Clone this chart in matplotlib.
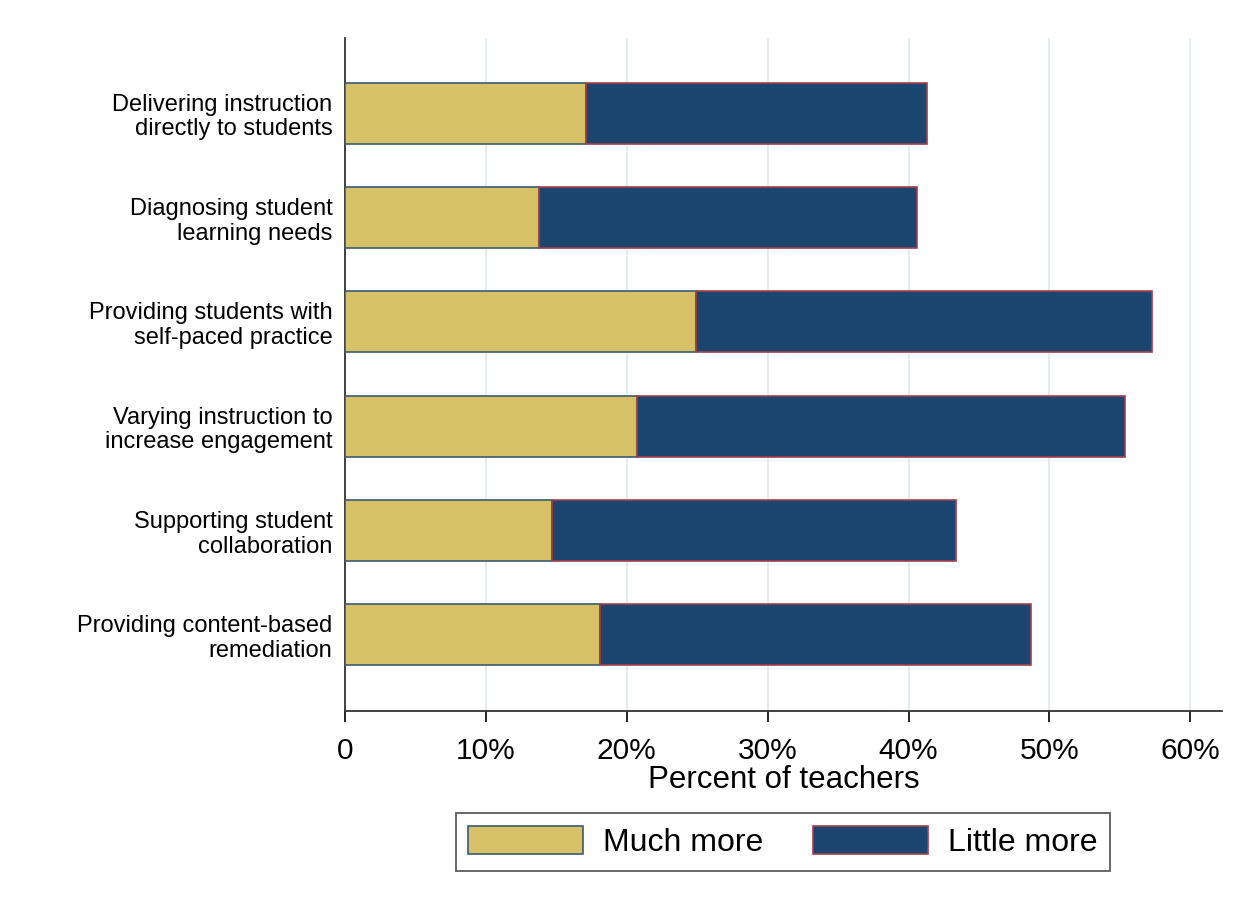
import matplotlib
matplotlib.use("Agg")
import matplotlib.pyplot as plt
from matplotlib.patches import Patch
from matplotlib.ticker import FuncFormatter

plt.rcParams['font.family'] = ['Liberation Sans', 'DejaVu Sans']

categories = [
    "Delivering instruction\ndirectly to students",
    "Diagnosing student\nlearning needs",
    "Providing students with\nself-paced practice",
    "Varying instruction to\nincrease engagement",
    "Supporting student\ncollaboration",
    "Providing content-based\nremediation",
]
much_more = [17.1, 13.8, 24.9, 20.7, 14.7, 18.1]
total = [41.3, 40.6, 57.3, 55.4, 43.4, 48.7]
little_more = [t - m for t, m in zip(total, much_more)]
series_labels = ["Much more", "Little more"]
xticks = [0, 10, 20, 30, 40, 50, 60]

yellow = "#D7C166"
blue = "#1C4670"

fig = plt.figure(figsize=(12.51, 9.07), dpi=100)
ax = fig.add_axes([345/1251, 1-711/907, (1222-345)/1251, (711-38)/907])

ypos = list(range(len(categories)))
ax.barh(ypos, much_more, height=0.585, color=yellow, edgecolor="#3D5A73", linewidth=1.2, zorder=3)
ax.barh(ypos, little_more, left=much_more, height=0.585, color=blue, edgecolor="#A0404E", linewidth=1.2, zorder=3)

ax.set_ylim(5.73, -0.72)
ax.set_xlim(0, 62.25)
ax.set_yticks(ypos)
ax.set_yticklabels(categories, fontsize=17, linespacing=1.15)
ax.tick_params(axis='y', length=0, pad=9)
ax.set_xticks(xticks)
ax.xaxis.set_major_formatter(FuncFormatter(lambda v, p: "0" if v == 0 else f"{int(v)}%"))
ax.tick_params(axis='x', labelsize=21.5, length=8, width=1.2, pad=11)
ax.grid(axis='x', color="#E4ECF0", linewidth=1.5, zorder=0)
for s in ['top', 'right']:
    ax.spines[s].set_visible(False)
for s in ['left', 'bottom']:
    ax.spines[s].set_linewidth(1.3)
    ax.spines[s].set_color("#333333")
ax.set_xlabel("Percent of teachers", fontsize=22.5, labelpad=0)

handles = [Patch(facecolor=yellow, edgecolor="#3D5A73", linewidth=1.2),
           Patch(facecolor=blue, edgecolor="#A0404E", linewidth=1.2)]
leg = fig.legend(handles, series_labels, loc='center', bbox_to_anchor=((453+1113)/2/1251, 1-(813+871)/2/907),
                 ncol=2, fontsize=23, frameon=True, fancybox=False, handlelength=3.6, handleheight=0.97,
                 columnspacing=1.56, handletextpad=0.62, borderpad=0.4)
leg.get_frame().set_edgecolor("#333333")
leg.get_frame().set_linewidth(1.3)

fig.savefig("out.png", dpi=100, facecolor="white")
